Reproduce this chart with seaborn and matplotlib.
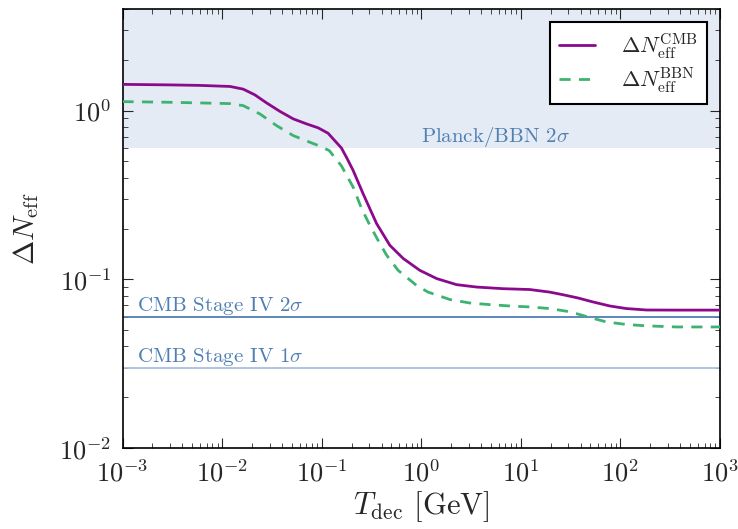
import numpy as np
import pandas as pd
import matplotlib
matplotlib.use("Agg")
import matplotlib.pyplot as plt
import seaborn as sns

# ---- data ----
T_cmb = [1e-3, 0.003, 0.006, 0.012, 0.0163, 0.0213, 0.028, 0.038, 0.0518, 0.0705, 0.0923,
         0.116, 0.158, 0.18, 0.207, 0.261, 0.356, 0.484, 0.658, 0.968, 1.43, 2.26, 3.59,
         6.64, 12.3, 19.5, 26.6, 37.6, 53.2, 78.3, 115, 183, 366, 1000]
dN_cmb = [1.43, 1.42, 1.41, 1.39, 1.34, 1.24, 1.11, 0.99, 0.893, 0.834, 0.79,
          0.734, 0.60, 0.52, 0.442, 0.321, 0.214, 0.159, 0.133, 0.113, 0.101, 0.093, 0.090,
          0.088, 0.087, 0.084, 0.081, 0.0775, 0.0734, 0.0695, 0.0671, 0.0658, 0.0657, 0.0657]

T_bbn = [1e-3, 0.003, 0.006, 0.012, 0.0163, 0.024, 0.0352, 0.0518, 0.0762, 0.0923, 0.119,
         0.158, 0.207, 0.252, 0.305, 0.369, 0.449, 0.586, 0.897, 1.17, 1.94, 3.08, 4.88,
         7.77, 12.3, 19.5, 28.8, 36.2, 47.4, 72.4, 115, 183, 366, 1000]
dN_bbn = [1.13, 1.12, 1.11, 1.10, 1.07, 0.955, 0.815, 0.711, 0.649, 0.621, 0.58,
          0.47, 0.352, 0.262, 0.209, 0.170, 0.139, 0.113, 0.092, 0.084, 0.0759, 0.0724, 0.0708,
          0.0695, 0.0686, 0.0671, 0.0647, 0.0626, 0.0598, 0.0559, 0.054, 0.053, 0.0522, 0.0522]

planck_bound = 0.6
s4_2sigma = 0.06
s4_1sigma = 0.03
xlim = (1e-3, 1e3)
ylim = (1e-2, 4.0)

sns.set_style("ticks")
plt.rcParams.update({
    "font.family": "serif",
    "font.serif": ["cmr10"],
    "mathtext.fontset": "cm",
    "axes.formatter.use_mathtext": True,
    "axes.unicode_minus": False,
    "xtick.direction": "in",
    "ytick.direction": "in",
    "xtick.top": True,
    "ytick.right": True,
    "xtick.major.size": 7,
    "ytick.major.size": 7,
    "xtick.minor.size": 3.5,
    "ytick.minor.size": 3.5,
    "axes.linewidth": 1.2,
    "axes.edgecolor": "black",
})

df_cmb = pd.DataFrame({"T": T_cmb, "dN": dN_cmb})
df_bbn = pd.DataFrame({"T": T_bbn, "dN": dN_bbn})

fig = plt.figure(figsize=(7.38, 5.29), dpi=100)
ax = fig.add_axes([0.166, 0.153, 0.8096, 0.830])

ax.axhspan(planck_bound, ylim[1], color="#e4ebf4", zorder=0, lw=0)
ax.axhline(s4_2sigma, color="#4f7fb3", lw=1.3, zorder=1)
ax.axhline(s4_1sigma, color="#a9c1de", lw=1.3, zorder=1)

sns.lineplot(data=df_cmb, x="T", y="dN", ax=ax, color="#8b0a8b", lw=2.0,
             label=r"$\Delta N_{\rm eff}^{\rm CMB}$", zorder=3)
sns.lineplot(data=df_bbn, x="T", y="dN", ax=ax, color="#3cb371", lw=2.0,
             linestyle=(0, (4, 3)), label=r"$\Delta N_{\rm eff}^{\rm BBN}$", zorder=3)

ax.set_xscale("log")
ax.set_yscale("log")
ax.set_xlim(*xlim)
ax.set_ylim(*ylim)

ax.text(1.0, 0.649, r"Planck/BBN $2\sigma$", color="#4f7fb3",
        fontsize=15, ha="left", va="baseline")
ax.text(1.4e-3, 0.0645, r"CMB Stage IV $2\sigma$", color="#4f7fb3", fontsize=15,
        ha="left", va="baseline")
ax.text(1.4e-3, 0.0322, r"CMB Stage IV $1\sigma$", color="#4f7fb3", fontsize=15,
        ha="left", va="baseline")

ax.tick_params(axis="both", which="major", labelsize=19, pad=8)
ax.set_xlabel(r"$T_{\rm dec}$ [GeV]", fontsize=22, labelpad=2)
ax.set_ylabel(r"$\Delta N_{\rm eff}$", fontsize=21, labelpad=13)

leg = ax.legend(loc="upper right", fontsize=16, frameon=True, fancybox=False,
                edgecolor="black", framealpha=1, borderaxespad=0.6, handlelength=1.6,
                borderpad=0.4, labelspacing=0.2, handletextpad=1.2)
leg.get_frame().set_linewidth(1.5)

fig.savefig("out.png", dpi=100)
